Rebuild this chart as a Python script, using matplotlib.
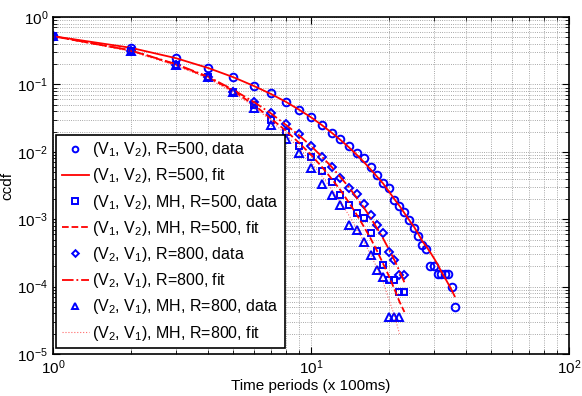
import matplotlib
matplotlib.use("Agg")
import matplotlib.pyplot as plt
import numpy as np

plt.rcParams['font.family'] = ['Liberation Sans', 'DejaVu Sans']
plt.rcParams['mathtext.default'] = 'regular'

# time periods (x 100ms)
t_v12 = list(range(1, 37))
t_mh12 = list(range(1, 24))
t_v21 = list(range(1, 24))
t_mh21 = list(range(1, 23))

# (V1, V2), R=500
ccdf_v12 = [0.53, 0.343, 0.244, 0.173, 0.130, 0.0947, 0.0738, 0.0554, 0.0417, 0.0325,
            0.025, 0.0192, 0.0155, 0.0122, 0.0097, 0.0081, 0.0060, 0.00453, 0.00341, 0.00288,
            0.00193, 0.00157, 0.00128, 0.00097, 0.00074, 0.00056, 0.000414, 0.000361, 0.000202, 0.000202,
            0.000154, 0.000154, 0.000154, 0.000154, 0.000099, 0.00005]
fit_v12 = [0.52, 0.35, 0.245, 0.175, 0.128, 0.095, 0.072, 0.055, 0.042, 0.0325,
           0.025, 0.0193, 0.0150, 0.0117, 0.0091, 0.0071, 0.0055, 0.0043, 0.0034, 0.0026,
           0.0020, 0.00158, 0.00123, 0.00097, 0.00078, 0.00061, 0.00047, 0.00039, 0.00032, 0.00026,
           0.00021, 0.000165, 0.000135, 0.00011, 0.00009, 0.000072]

# (V1, V2), MH, R=500
ccdf_mh12 = [0.53, 0.316, 0.194, 0.127, 0.078, 0.05, 0.0296, 0.0199, 0.0124, 0.0083,
             0.0052, 0.00356, 0.00229, 0.0016, 0.00122, 0.00103, 0.00063, 0.00034, 0.000211, 0.000125,
             0.000125, 0.000084, 0.000084]
fit_mh12 = [0.52, 0.32, 0.197, 0.127, 0.08, 0.05, 0.031, 0.0205, 0.0135, 0.009,
            0.006, 0.004, 0.0027, 0.00178, 0.00118, 0.00078, 0.00052, 0.00034, 0.00022, 0.000145,
            0.000093, 0.00006, 0.000042]

# (V2, V1), R=800
ccdf_v21 = [0.53, 0.316, 0.194, 0.127, 0.078, 0.055, 0.0373, 0.0258, 0.0184, 0.0124,
            0.0085, 0.0060, 0.00404, 0.00287, 0.00237, 0.00171, 0.00114, 0.00081, 0.00062, 0.00033,
            0.000252, 0.000149, 0.000149]
fit_v21 = [0.52, 0.32, 0.2, 0.13, 0.083, 0.055, 0.037, 0.025, 0.0175, 0.0122,
           0.0085, 0.006, 0.0042, 0.003, 0.0021, 0.0015, 0.00105, 0.00074, 0.00052, 0.00036,
           0.00025, 0.00017, 0.000115]

# (V2, V1), MH, R=800
ccdf_mh21 = [0.53, 0.316, 0.194, 0.127, 0.078, 0.045, 0.0254, 0.0155, 0.0096, 0.0057,
             0.0033, 0.00229, 0.00163, 0.00082, 0.00069, 0.00046, 0.00029, 0.000178, 0.000141, 0.000035,
             0.000035, 0.000035]
fit_mh21 = [0.52, 0.31, 0.19, 0.122, 0.076, 0.047, 0.029, 0.018, 0.0112, 0.007,
            0.0044, 0.0028, 0.0018, 0.00115, 0.00073, 0.00047, 0.0003, 0.00019, 0.000118, 0.000065,
            0.000038, 0.00002]

fig = plt.figure(figsize=(5.82, 3.96), dpi=100)
ax = fig.add_axes([0.091, 0.106, 0.887, 0.851])

mk = dict(color='blue', mfc='none', mew=1.4, ls='none')
ax.plot(t_v12, ccdf_v12, marker='o', ms=5.5, label='(V$_1$, V$_2$), R=500, data', **mk)
ax.plot(t_v12, fit_v12, 'r-', lw=1.3, label='(V$_1$, V$_2$), R=500, fit')
ax.plot(t_mh12, ccdf_mh12, marker='s', ms=5, label='(V$_1$, V$_2$), MH, R=500, data', **mk)
ax.plot(t_mh12, fit_mh12, 'r--', lw=1.3, label='(V$_1$, V$_2$), MH, R=500, fit')
ax.plot(t_v21, ccdf_v21, marker='D', ms=4.5, label='(V$_2$, V$_1$), R=800, data', **mk)
ax.plot(t_v21, fit_v21, 'r-.', lw=1.3, label='(V$_2$, V$_1$), R=800, fit')
ax.plot(t_mh21, ccdf_mh21, marker='^', ms=6, label='(V$_2$, V$_1$), MH, R=800, data', **mk)
ax.plot(t_mh21, fit_mh21, color='red', ls=':', lw=0.8, alpha=0.6, label='(V$_2$, V$_1$), MH, R=800, fit')

ax.set_xscale('log')
ax.set_yscale('log')
ax.set_xlim(1, 100)
ax.set_ylim(1e-5, 1)
ax.grid(True, which='both', color='0.55', ls=':', lw=0.6)
ax.tick_params(which='both', direction='in', top=True, right=True, labelsize=11)
ax.tick_params(which='major', length=5)
ax.tick_params(which='minor', length=3)
for s in ax.spines.values():
    s.set_linewidth(1.2)

ax.set_xlabel('Time periods (x 100ms)', fontsize=11, labelpad=1)
ax.set_ylabel('ccdf', fontsize=11, labelpad=2)

leg = ax.legend(loc='lower left', bbox_to_anchor=(0.0, 0.008), fontsize=11.5,
                fancybox=False, edgecolor='black', framealpha=1,
                handlelength=1.7, handletextpad=0.2, labelspacing=0.45,
                borderaxespad=0.2, borderpad=0.35, markerscale=0.75)
leg.get_frame().set_linewidth(1.2)

fig.savefig('out.png', dpi=100)
